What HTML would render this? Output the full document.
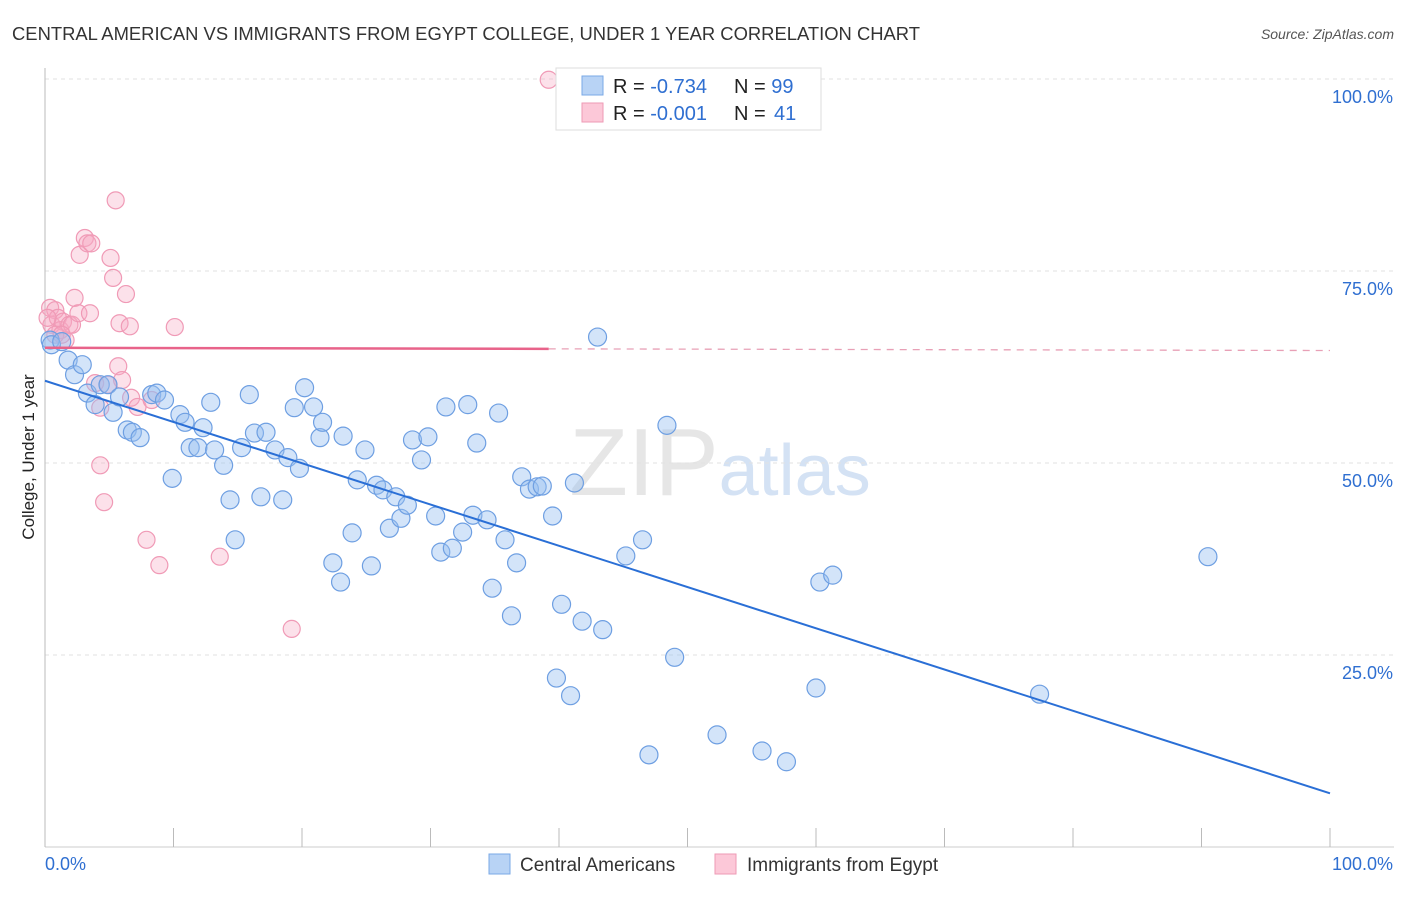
<!DOCTYPE html>
<html><head><meta charset="utf-8"><style>
body{margin:0;background:#fff;font-family:"Liberation Sans",sans-serif;}
svg text{font-family:"Liberation Sans",sans-serif;}
</style></head><body>
<svg id="c" width="1406" height="892">
<text x="12" y="40" font-size="18" fill="#333" textLength="908" lengthAdjust="spacingAndGlyphs">CENTRAL AMERICAN VS IMMIGRANTS FROM EGYPT COLLEGE, UNDER 1 YEAR CORRELATION CHART</text>
<text x="1394" y="39" font-size="14" fill="#555" font-style="italic" text-anchor="end">Source: ZipAtlas.com</text>
<text x="720" y="495" font-size="96" fill="#e6e6e6" text-anchor="middle" font-family="Liberation Serif">ZIP<tspan fill="#d4e2f4" font-family="Liberation Sans" font-size="72">atlas</tspan></text>
<g id="grid"></g><g id="pts"></g><g id="lines"></g>
<text transform="translate(34,457) rotate(-90)" font-size="17" fill="#222" text-anchor="middle">College, Under 1 year</text>
<g>
<rect x="556" y="68" width="265" height="62" fill="#fff" stroke="#ddd"/>
<rect x="582" y="76" width="21" height="19" fill="#b8d3f5" stroke="#7aa8e6"/>
<rect x="582" y="103" width="21" height="19" fill="#fcc8d8" stroke="#ee9ab5"/>
<text x="613" y="93" font-size="20" fill="#222">R = <tspan fill="#2f6fd1">-0.734</tspan><tspan x="734">N = </tspan><tspan fill="#2f6fd1">99</tspan></text>
<text x="613" y="120" font-size="20" fill="#222">R = <tspan fill="#2f6fd1">-0.001</tspan><tspan x="734">N = </tspan><tspan fill="#2f6fd1" x="774">41</tspan></text>
</g>
<g>
<rect x="489" y="854" width="21" height="20" fill="#b8d3f5" stroke="#7aa8e6"/>
<text x="520" y="871" font-size="19" fill="#333">Central Americans</text>
<rect x="715" y="854" width="21" height="20" fill="#fcc8d8" stroke="#ee9ab5"/>
<text x="747" y="871" font-size="19" fill="#333">Immigrants from Egypt</text>
</g>
</svg>
<script>
const blueX=[0.4,0.5,1.3,1.8,2.3,2.9,3.3,3.9,4.3,4.9,5.3,5.8,6.4,6.8,7.4,8.3,8.7,9.3,9.9,10.5,10.9,11.3,11.9,12.3,13.2,12.9,13.9,14.4,14.8,15.3,15.9,16.3,16.8,17.2,17.9,18.5,18.9,19.4,19.8,20.2,20.9,21.4,21.6,22.4,23.0,23.2,23.9,24.3,24.9,25.4,25.8,26.3,26.8,27.3,27.7,28.2,28.6,29.3,29.8,30.4,30.8,31.2,31.7,32.5,32.9,33.3,33.6,34.4,34.8,35.3,35.8,36.3,36.7,37.1,37.7,38.3,38.7,39.5,39.8,40.2,40.9,41.2,41.8,43.0,43.4,45.2,46.5,47.0,48.4,49.0,52.3,55.8,57.7,60.0,60.3,61.3,77.4,90.5];
const blueY=[66.0,65.4,65.8,63.4,61.5,62.8,59.1,57.6,60.2,60.2,56.6,58.6,54.3,54.0,53.3,58.9,59.1,58.2,48.0,56.3,55.3,52.0,52.0,54.6,51.7,57.9,49.7,45.2,40.0,52.0,58.9,53.9,45.6,54.0,51.7,45.2,50.7,57.2,49.3,59.8,57.3,53.3,55.3,37.0,34.5,53.5,40.9,47.8,51.7,36.6,47.1,46.5,41.5,45.6,42.8,44.5,53.0,50.4,53.4,43.1,38.4,57.3,38.9,41.0,57.6,43.2,52.6,42.6,33.7,56.5,40.0,30.1,37.0,48.2,46.6,46.9,47.0,43.1,22.0,31.6,19.7,47.4,29.4,66.4,28.3,37.9,40.0,12.0,54.9,24.7,14.6,12.5,11.1,20.7,34.5,35.4,19.9,37.8];
const pinkX=[0.4,0.8,0.5,1.0,1.2,1.4,1.6,1.9,2.3,2.1,2.6,2.7,3.1,3.3,3.6,3.5,3.9,4.3,4.3,4.6,4.9,5.1,5.3,5.5,5.7,5.8,6.0,6.3,6.6,6.7,7.2,7.9,8.3,8.9,10.1,13.6,19.2,39.2,0.2,0.8,1.3];
const pinkY=[70.2,69.9,68.0,68.9,67.3,68.4,66.0,68.0,71.5,68.0,69.5,77.1,79.3,78.6,78.6,69.5,60.4,49.7,57.2,44.9,60.2,76.7,74.1,84.2,62.6,68.2,60.8,72.0,67.8,58.5,57.3,40.0,58.2,36.7,67.7,37.8,28.4,99.9,68.9,66.7,66.7];
const yTicks=[25,50,75,100];
const yTickLabels=["25.0%","50.0%","75.0%","100.0%"];
const xTicks=[0,10,20,30,40,50,60,70,80,90,100];
const NS="http://www.w3.org/2000/svg";
const L=45,R=1330,T=79,B=847;
const sx=v=>L+(R-L)*v/100, sy=v=>B-(B-T)*v/100;
function mk(tag,attrs,parent){const e=document.createElementNS(NS,tag);for(const k in attrs)e.setAttribute(k,attrs[k]);parent.appendChild(e);return e;}
const grid=document.getElementById('grid');
yTicks.forEach((t,i)=>{
 const g=mk('line',{x1:L,x2:1394,y1:sy(t),y2:sy(t),stroke:'#e2e2e2','stroke-dasharray':'4,4'},grid);
 
 
 const tx=mk('text',{x:1393,y:sy(t)+24,'font-size':18,fill:'#2f6fd1','text-anchor':'end'},grid);
 tx.textContent=yTickLabels[i];
 
 
});
const ax=mk('line',{x1:L,x2:L,y1:68,y2:B,stroke:'#bbb'},grid);


const bx=mk('line',{x1:L,x2:1394,y1:B,y2:B,stroke:'#ccc'},grid);


xTicks.forEach(t=>{
 const l=mk('line',{x1:sx(t),x2:sx(t),y1:828,y2:B,stroke:'#bbb'},grid);
 
 
});
const xl0=mk('text',{x:45,y:870,'font-size':18,fill:'#2f6fd1'},grid);xl0.textContent='0.0%';


const xl1=mk('text',{x:1393,y:870,'font-size':18,fill:'#2f6fd1','text-anchor':'end'},grid);xl1.textContent='100.0%';


const pts=document.getElementById('pts');
pinkX.forEach((x,i)=>{
 const c=mk('circle',{cx:sx(x),cy:sy(pinkY[i]),r:8.5,fill:'rgba(246,170,196,0.35)',stroke:'#f09ab6','stroke-width':1.2},pts);
 
 
});
blueX.forEach((x,i)=>{
 const c=mk('circle',{cx:sx(x),cy:sy(blueY[i]),r:9,fill:'rgba(150,190,240,0.42)',stroke:'#6e9fe2','stroke-width':1.2},pts);
 
 
});
function fit(X,Y){const n=X.length;let mx=0,my=0;X.forEach((x,i)=>{mx+=x;my+=Y[i];});mx/=n;my/=n;let a=0,b=0;X.forEach((x,i)=>{a+=(x-mx)*(Y[i]-my);b+=(x-mx)*(x-mx);});const s=a/b;return [my-s*mx,s];}
const lines=document.getElementById('lines');
const [bi,bs]=fit(blueX,blueY);
const bl=mk('line',{x1:sx(0),y1:sy(bi),x2:sx(100),y2:sy(bi+bs*100),stroke:'#2a6fd6','stroke-width':2},lines);


const [pi,ps]=fit(pinkX,pinkY);
const pmaxX=Math.max(...pinkX);
const pl=mk('line',{x1:sx(0),y1:sy(pi),x2:sx(pmaxX),y2:sy(pi+ps*pmaxX),stroke:'#e8638a','stroke-width':2.5},lines);


const pd=mk('line',{x1:sx(pmaxX),y1:sy(pi+ps*pmaxX),x2:sx(100),y2:sy(pi+ps*100),stroke:'#e8a0b6','stroke-width':1.3,'stroke-dasharray':'7,6'},lines);


</script>
</body></html>
